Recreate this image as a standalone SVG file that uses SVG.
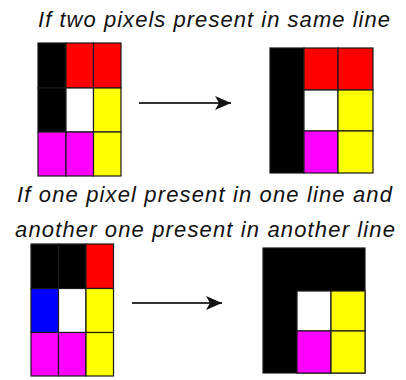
<svg xmlns="http://www.w3.org/2000/svg" width="406" height="380" viewBox="0 0 406 380">
<style>
.t{font-family:"Liberation Sans",Arial,sans-serif;font-style:italic;font-size:22px;fill:#111}
.c{stroke:#1a1a1a;stroke-width:1.2}
.k{fill:#000}.r{fill:#ff0000}.w{fill:#fff}.y{fill:#ffff00}.m{fill:#ff00ff}.b{fill:#0000ff}
.conn{stroke:#333;stroke-width:2;fill:none}
</style>
<defs>
<marker id="ah" markerUnits="userSpaceOnUse" viewBox="0 0 16 14" markerWidth="16" markerHeight="14" refX="16" refY="7" orient="auto">
<path d="M0,0 L16,7 L0,14 L4,7 z" fill="#111"/>
</marker>
</defs>
<rect width="406" height="380" fill="#fff"/>
<text class="t" x="38" y="26.5" textLength="352" lengthAdjust="spacing">If two pixels present in same line</text>
<text class="t" x="17" y="202" textLength="375" lengthAdjust="spacing">If one pixel present in one line and</text>
<text class="t" x="15" y="236.5" textLength="380" lengthAdjust="spacing">another one present in another line</text>
<g id="grid1">
<rect class="c k" x="38" y="43" width="28" height="45"/>
<rect class="c r" x="66" y="43" width="27.5" height="45"/>
<rect class="c r" x="93.5" y="43" width="27.5" height="45"/>
<rect class="c k" x="38" y="88" width="28" height="44"/>
<rect class="c w" x="66" y="88" width="27.5" height="44"/>
<rect class="c y" x="93.5" y="88" width="27.5" height="44"/>
<rect class="c m" x="38" y="132" width="28" height="44"/>
<rect class="c m" x="66" y="132" width="27.5" height="44"/>
<rect class="c y" x="93.5" y="132" width="27.5" height="44"/>
</g>
<g id="grid2">
<rect class="c k" x="270" y="48" width="34" height="125"/>
<rect class="c r" x="304" y="48" width="34" height="42"/>
<rect class="c r" x="338" y="48" width="35" height="42"/>
<rect class="c w" x="304" y="90" width="34" height="41"/>
<rect class="c y" x="338" y="90" width="35" height="41"/>
<rect class="c m" x="304" y="131" width="34" height="42"/>
<rect class="c y" x="338" y="131" width="35" height="42"/>
</g>
<g id="grid3">
<rect class="c k" x="31" y="244" width="27.5" height="44.5"/>
<rect class="c k" x="58.5" y="244" width="27.5" height="44.5"/>
<rect class="c r" x="86" y="244" width="27.5" height="44.5"/>
<rect class="c b" x="31" y="288.5" width="27.5" height="44"/>
<rect class="c w" x="58.5" y="288.5" width="27.5" height="44"/>
<rect class="c y" x="86" y="288.5" width="27.5" height="44"/>
<rect class="c m" x="31" y="332.5" width="27.5" height="43.5"/>
<rect class="c m" x="58.5" y="332.5" width="27.5" height="43.5"/>
<rect class="c y" x="86" y="332.5" width="27.5" height="43.5"/>
</g>
<g id="grid4">
<rect class="c k" x="263" y="248" width="102" height="125"/>
<rect class="c w" x="297" y="291" width="34" height="40"/>
<rect class="c y" x="331" y="291" width="34" height="40"/>
<rect class="c m" x="297" y="331" width="34" height="42"/>
<rect class="c y" x="331" y="331" width="34" height="42"/>
</g>
<g id="connectors">
<line class="conn" x1="139" y1="103" x2="231" y2="103" marker-end="url(#ah)"/>
<line class="conn" x1="132" y1="303" x2="222" y2="303" marker-end="url(#ah)"/>
</g>
</svg>
